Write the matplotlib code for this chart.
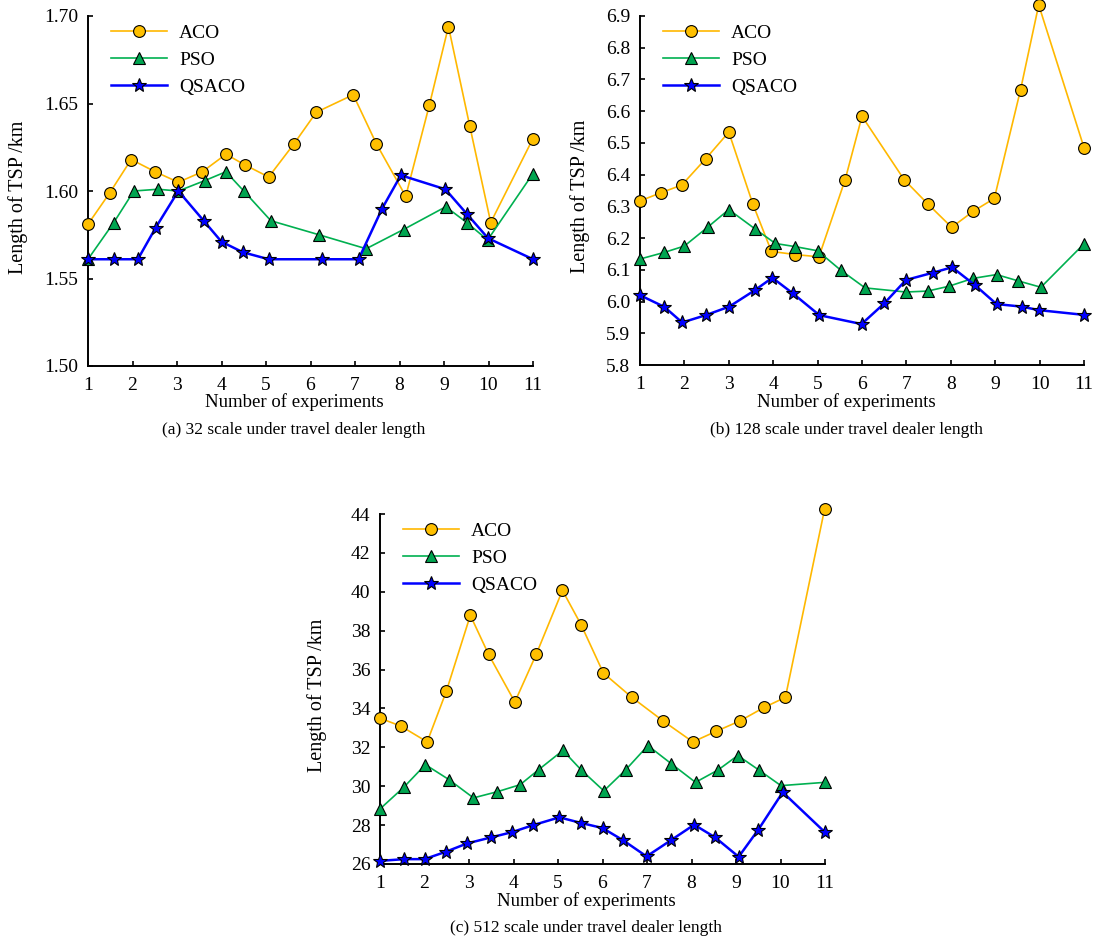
import matplotlib
matplotlib.use("Agg")
import matplotlib.pyplot as plt
from matplotlib.ticker import FixedLocator, FormatStrFormatter

plt.rcParams['font.family'] = ['Liberation Serif', 'DejaVu Serif']

W, H = 1095, 943

series_names = ["ACO", "PSO", "QSACO"]
x_ticks = list(range(1, 12))

# ---- Panel (a): 32 scale ----
a_aco_x = [1.0, 1.49, 1.97, 2.51, 3.03, 3.57, 4.10, 4.52, 5.06, 5.63, 6.13, 6.96, 7.48, 8.14, 8.67, 9.10, 9.58, 10.05, 11.0]
a_aco_y = [1.581, 1.599, 1.618, 1.611, 1.605, 1.611, 1.621, 1.615, 1.608, 1.627, 1.645, 1.655, 1.627, 1.597, 1.649, 1.694, 1.637, 1.582, 1.630]
a_pso_x = [1.0, 1.58, 2.03, 2.57, 3.03, 3.63, 4.10, 4.50, 5.11, 6.19, 7.25, 8.09, 9.04, 9.51, 9.98, 11.0]
a_pso_y = [1.561, 1.582, 1.600, 1.601, 1.600, 1.606, 1.611, 1.600, 1.583, 1.575, 1.567, 1.578, 1.591, 1.582, 1.572, 1.610]
a_qsaco_x = [1.0, 1.58, 2.12, 2.52, 3.03, 3.60, 4.0, 4.48, 5.06, 6.25, 7.08, 7.61, 8.03, 9.03, 9.51, 9.99, 11.0]
a_qsaco_y = [1.561, 1.561, 1.561, 1.579, 1.600, 1.583, 1.571, 1.565, 1.561, 1.561, 1.561, 1.590, 1.609, 1.601, 1.587, 1.573, 1.561]
a_yticks = [1.50, 1.55, 1.60, 1.65, 1.70]

# ---- Panel (b): 128 scale ----
b_aco_x = [1.0, 1.47, 1.94, 2.48, 3.0, 3.54, 3.96, 4.50, 5.03, 5.62, 6.0, 6.95, 7.48, 8.02, 8.50, 8.98, 9.57, 9.98, 11.0]
b_aco_y = [6.317, 6.343, 6.367, 6.450, 6.534, 6.308, 6.158, 6.148, 6.141, 6.384, 6.584, 6.384, 6.308, 6.234, 6.284, 6.325, 6.667, 6.935, 6.485]
b_pso_x = [1.0, 1.55, 2.0, 2.53, 3.0, 3.6, 4.05, 4.50, 5.0, 5.52, 6.07, 6.99, 7.48, 7.95, 8.50, 9.03, 9.52, 10.03, 11.0]
b_pso_y = [6.134, 6.155, 6.175, 6.235, 6.290, 6.228, 6.183, 6.173, 6.160, 6.099, 6.043, 6.030, 6.033, 6.048, 6.073, 6.085, 6.065, 6.045, 6.182]
b_qsaco_x = [1.0, 1.55, 1.95, 2.48, 3.01, 3.59, 3.98, 4.44, 5.04, 5.99, 6.50, 6.99, 7.60, 8.03, 8.55, 9.03, 9.60, 9.98, 11.0]
b_qsaco_y = [6.020, 5.983, 5.934, 5.957, 5.984, 6.036, 6.075, 6.026, 5.957, 5.929, 5.994, 6.068, 6.091, 6.108, 6.051, 5.992, 5.984, 5.973, 5.958]
b_yticks = [5.8, 5.9, 6.0, 6.1, 6.2, 6.3, 6.4, 6.5, 6.6, 6.7, 6.8, 6.9]

# ---- Panel (c): 512 scale ----
c_aco_x = [1.0, 1.47, 2.06, 2.49, 3.03, 3.44, 4.03, 4.51, 5.10, 5.52, 6.02, 6.66, 7.36, 8.03, 8.56, 9.09, 9.63, 10.11, 10.99]
c_aco_y = [33.50, 33.09, 32.28, 34.88, 38.79, 36.78, 34.33, 36.78, 40.07, 38.30, 35.82, 34.57, 33.36, 32.28, 32.83, 33.36, 34.05, 34.57, 44.24]
c_pso_x = [1.0, 1.54, 2.02, 2.55, 3.1, 3.64, 4.15, 4.57, 5.11, 5.52, 6.03, 6.52, 7.02, 7.55, 8.09, 8.60, 9.04, 9.51, 10.01, 11.0]
c_pso_y = [28.83, 29.96, 31.11, 30.34, 29.40, 29.72, 30.08, 30.86, 31.84, 30.84, 29.76, 30.84, 32.09, 31.15, 30.20, 30.84, 31.58, 30.84, 30.03, 30.20]
c_qsaco_x = [1.0, 1.54, 2.0, 2.48, 2.96, 3.50, 3.97, 4.43, 5.03, 5.52, 6.0, 6.47, 6.99, 7.53, 8.06, 8.53, 9.06, 9.50, 10.05, 11.0]
c_qsaco_y = [26.16, 26.25, 26.25, 26.63, 27.06, 27.37, 27.64, 27.99, 28.40, 28.11, 27.85, 27.21, 26.39, 27.21, 28.02, 27.37, 26.37, 27.76, 29.69, 27.63]
c_yticks = [26, 28, 30, 32, 34, 36, 38, 40, 42, 44]

captions = ["(a) 32 scale under travel dealer length",
            "(b) 128 scale under travel dealer length",
            "(c) 512 scale under travel dealer length"]
x_label = "Number of experiments"
y_label = "Length of TSP /km"

styles = [
    dict(color="#FFB800", lw=1.2, marker="o", ms=8.5, mfc="#FFC000", mec="black", mew=0.8),
    dict(color="#00B050", lw=1.2, marker="^", ms=9, mfc="#00A550", mec="black", mew=0.8),
    dict(color="#0000FF", lw=1.8, marker="*", ms=10, mfc="#0000FF", mec="black", mew=0.8),
]

fig = plt.figure(figsize=(W / 100, H / 100), dpi=100)


def px_axes(left, top, right, bottom):
    return fig.add_axes([left / W, 1 - bottom / H, (right - left) / W, (bottom - top) / H])


panels = [
    dict(box=(88, 16, 533, 366), data=[(a_aco_x, a_aco_y), (a_pso_x, a_pso_y), (a_qsaco_x, a_qsaco_y)],
         yticks=a_yticks, fmt="%.2f", ylab_x=18, xlab_cx=294, xlab_y=402, cap_y=430, leg=(111, 24)),
    dict(box=(640, 16, 1084, 365), data=[(b_aco_x, b_aco_y), (b_pso_x, b_pso_y), (b_qsaco_x, b_qsaco_y)],
         yticks=b_yticks, fmt="%.1f", ylab_x=580, xlab_cx=846, xlab_y=402, cap_y=430, leg=(663, 24)),
    dict(box=(380, 514, 825, 864), data=[(c_aco_x, c_aco_y), (c_pso_x, c_pso_y), (c_qsaco_x, c_qsaco_y)],
         yticks=c_yticks, fmt="%d", ylab_x=317, xlab_cx=586, xlab_y=901, cap_y=928, leg=(403, 522)),
]

for i, p in enumerate(panels):
    l, t, r, b = p["box"]
    ax = px_axes(l, t, r, b)
    for (xs, ys), name, st in zip(p["data"], series_names, styles):
        ax.plot(xs, ys, label=name, clip_on=False, zorder=3, **st)
    ax.set_xlim(1, 11)
    ax.set_ylim(p["yticks"][0], p["yticks"][-1])
    ax.xaxis.set_major_locator(FixedLocator(x_ticks))
    ax.yaxis.set_major_locator(FixedLocator(p["yticks"]))
    ax.yaxis.set_major_formatter(FormatStrFormatter(p["fmt"]))
    for s in ("top", "right"):
        ax.spines[s].set_visible(False)
    for s in ("left", "bottom"):
        ax.spines[s].set_linewidth(1.4)
    ax.tick_params(direction="in", length=3.5, width=1.2, labelsize=14)
    ax.tick_params(axis="x", pad=8)
    ax.tick_params(axis="y", pad=7)
    ax.patch.set_alpha(0)

    ax.legend(loc="upper left", bbox_to_anchor=((p["leg"][0] - l) / (r - l), 1 - (p["leg"][1] - t) / (b - t)),
              frameon=False, fontsize=14, handlelength=2.9, handletextpad=0.6,
              labelspacing=0.5, borderpad=0, borderaxespad=0)

    fig.text(p["ylab_x"] / W, 1 - ((t + b) / 2 + 6) / H, y_label, rotation=90, ha="center", va="center", fontsize=14.5)
    fig.text(p["xlab_cx"] / W, 1 - p["xlab_y"] / H, x_label, ha="center", va="center", fontsize=13.5)
    fig.text(p["xlab_cx"] / W, 1 - p["cap_y"] / H, captions[i], ha="center", va="center", fontsize=12.5)

fig.savefig("out.png", dpi=100)
